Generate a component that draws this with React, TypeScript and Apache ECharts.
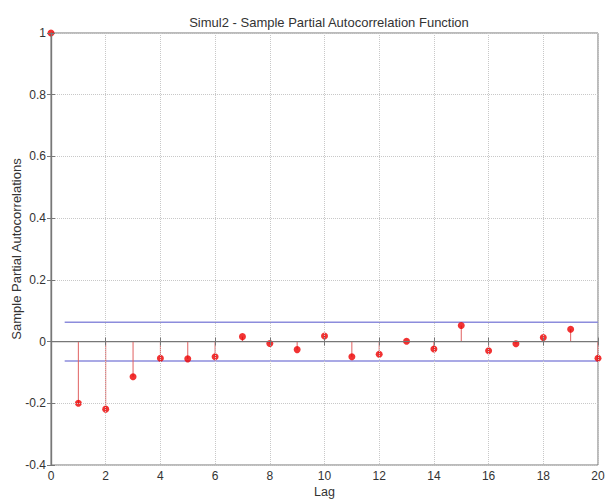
import React, { useEffect, useRef } from "react";
import * as echarts from "echarts";

const lags = [0, 1, 2, 3, 4, 5, 6, 7, 8, 9, 10, 11, 12, 13, 14, 15, 16, 17, 18, 19, 20];
const pacf = [1, -0.2, -0.219, -0.114, -0.054, -0.056, -0.049, 0.016, -0.006, -0.026, 0.018, -0.049, -0.041, 0.001, -0.024, 0.052, -0.03, -0.007, 0.013, 0.04, -0.054];
const bound = 0.063;
const boundStart = 0.5;
const boundEnd = 20;
const xTicks = { min: 0, max: 20, interval: 2 };
const yTicks = { min: -0.4, max: 1, interval: 0.2 };

const FONT = "Liberation Sans, Arial, sans-serif";

export default function App() {
  const ref = useRef<HTMLDivElement>(null);
  useEffect(() => {
    if (!ref.current) return;
    const chart = echarts.init(ref.current, undefined, { renderer: "svg" });
    const points = lags.map((l, i) => [l, pacf[i]]);
    const axisLine = { show: true, lineStyle: { color: "#777", width: 1.2 } };
    chart.setOption({
      animation: false,
      backgroundColor: "#fff",
      title: {
        text: "Simul2 - Sample Partial Autocorrelation Function",
        left: 324,
        textAlign: "center",
        top: 11,
        textStyle: { fontFamily: FONT, fontSize: 13, fontWeight: "normal", color: "#333" },
      },
      grid: {
        left: 51,
        right: 8,
        top: 33,
        bottom: 34,
        show: true,
        borderColor: "#777",
        borderWidth: 1,
        containLabel: false,
        outerBoundsMode: "none",
      },
      xAxis: [
        {
          type: "value",
          ...xTicks,
          name: "Lag",
          nameLocation: "middle",
          nameGap: 20,
          nameMoveOverlap: false,
          nameTextStyle: { fontFamily: FONT, fontSize: 12.5, color: "#333" },
          axisLine,
          axisTick: { show: true, inside: true, length: 4, lineStyle: { color: "#777" } },
          axisLabel: { fontFamily: FONT, fontSize: 12, color: "#333", margin: 5 },
          splitLine: { show: true, lineStyle: { type: "dotted", color: "#c8c8c8" } },
          z: 10,
        },
        {
          type: "value",
          ...xTicks,
          position: "top",
          axisLine,
          axisTick: { show: true, inside: true, length: 4, lineStyle: { color: "#777" } },
          axisLabel: { show: false },
          splitLine: { show: false },
          z: 10,
        },
      ],
      yAxis: [
        {
          type: "value",
          ...yTicks,
          name: "Sample Partial Autocorrelations",
          nameLocation: "middle",
          nameGap: 28,
          nameMoveOverlap: false,
          nameTextStyle: { fontFamily: FONT, fontSize: 13, color: "#333" },
          axisLine,
          axisTick: { show: true, inside: true, length: 4, lineStyle: { color: "#777" } },
          axisLabel: {
            fontFamily: FONT,
            fontSize: 12,
            color: "#333",
            margin: 5,
            formatter: (v: number) => String(Math.round(v * 10) / 10),
          },
          splitLine: { show: true, lineStyle: { type: "dotted", color: "#c8c8c8" } },
          z: 10,
        },
        {
          type: "value",
          ...yTicks,
          position: "right",
          axisLine,
          axisTick: { show: true, inside: true, length: 4, lineStyle: { color: "#777" } },
          axisLabel: { show: false },
          splitLine: { show: false },
          z: 10,
        },
      ],
      series: [
        {
          type: "line",
          data: [[0, 0], [20, 0]],
          symbol: "none",
          lineStyle: { color: "#777", width: 1.2 },
          silent: true,
          z: 2,
        },
        {
          type: "line",
          data: [[boundStart, bound], [boundEnd, bound]],
          symbol: "none",
          lineStyle: { color: "#8c8cdc", width: 1.5 },
          silent: true,
          z: 2,
        },
        {
          type: "line",
          data: [[boundStart, -bound], [boundEnd, -bound]],
          symbol: "none",
          lineStyle: { color: "#8c8cdc", width: 1.5 },
          silent: true,
          z: 2,
        },
        {
          type: "custom",
          data: points,
          z: 3,
          renderItem: (params: any, api: any) => {
            const x = api.value(0);
            const y = api.value(1);
            if (x === xTicks.min) return null; // stem lies under the y axis
            const p0 = api.coord([x, 0]);
            const p1 = api.coord([x, y]);
            return {
              type: "line",
              shape: { x1: p0[0], y1: p0[1], x2: p1[0], y2: p1[1] },
              style: { stroke: "#e06060", lineWidth: 1 },
            };
          },
        },
        {
          type: "scatter",
          data: points,
          symbol: "circle",
          symbolSize: 7,
          itemStyle: { color: "#ee0000" },
          z: 4,
        },
      ],
    });
    return () => chart.dispose();
  }, []);
  return (
    <div
      ref={ref}
      style={{ position: "absolute", left: 0, top: 0, width: 606, height: 499 }}
    />
  );
}
